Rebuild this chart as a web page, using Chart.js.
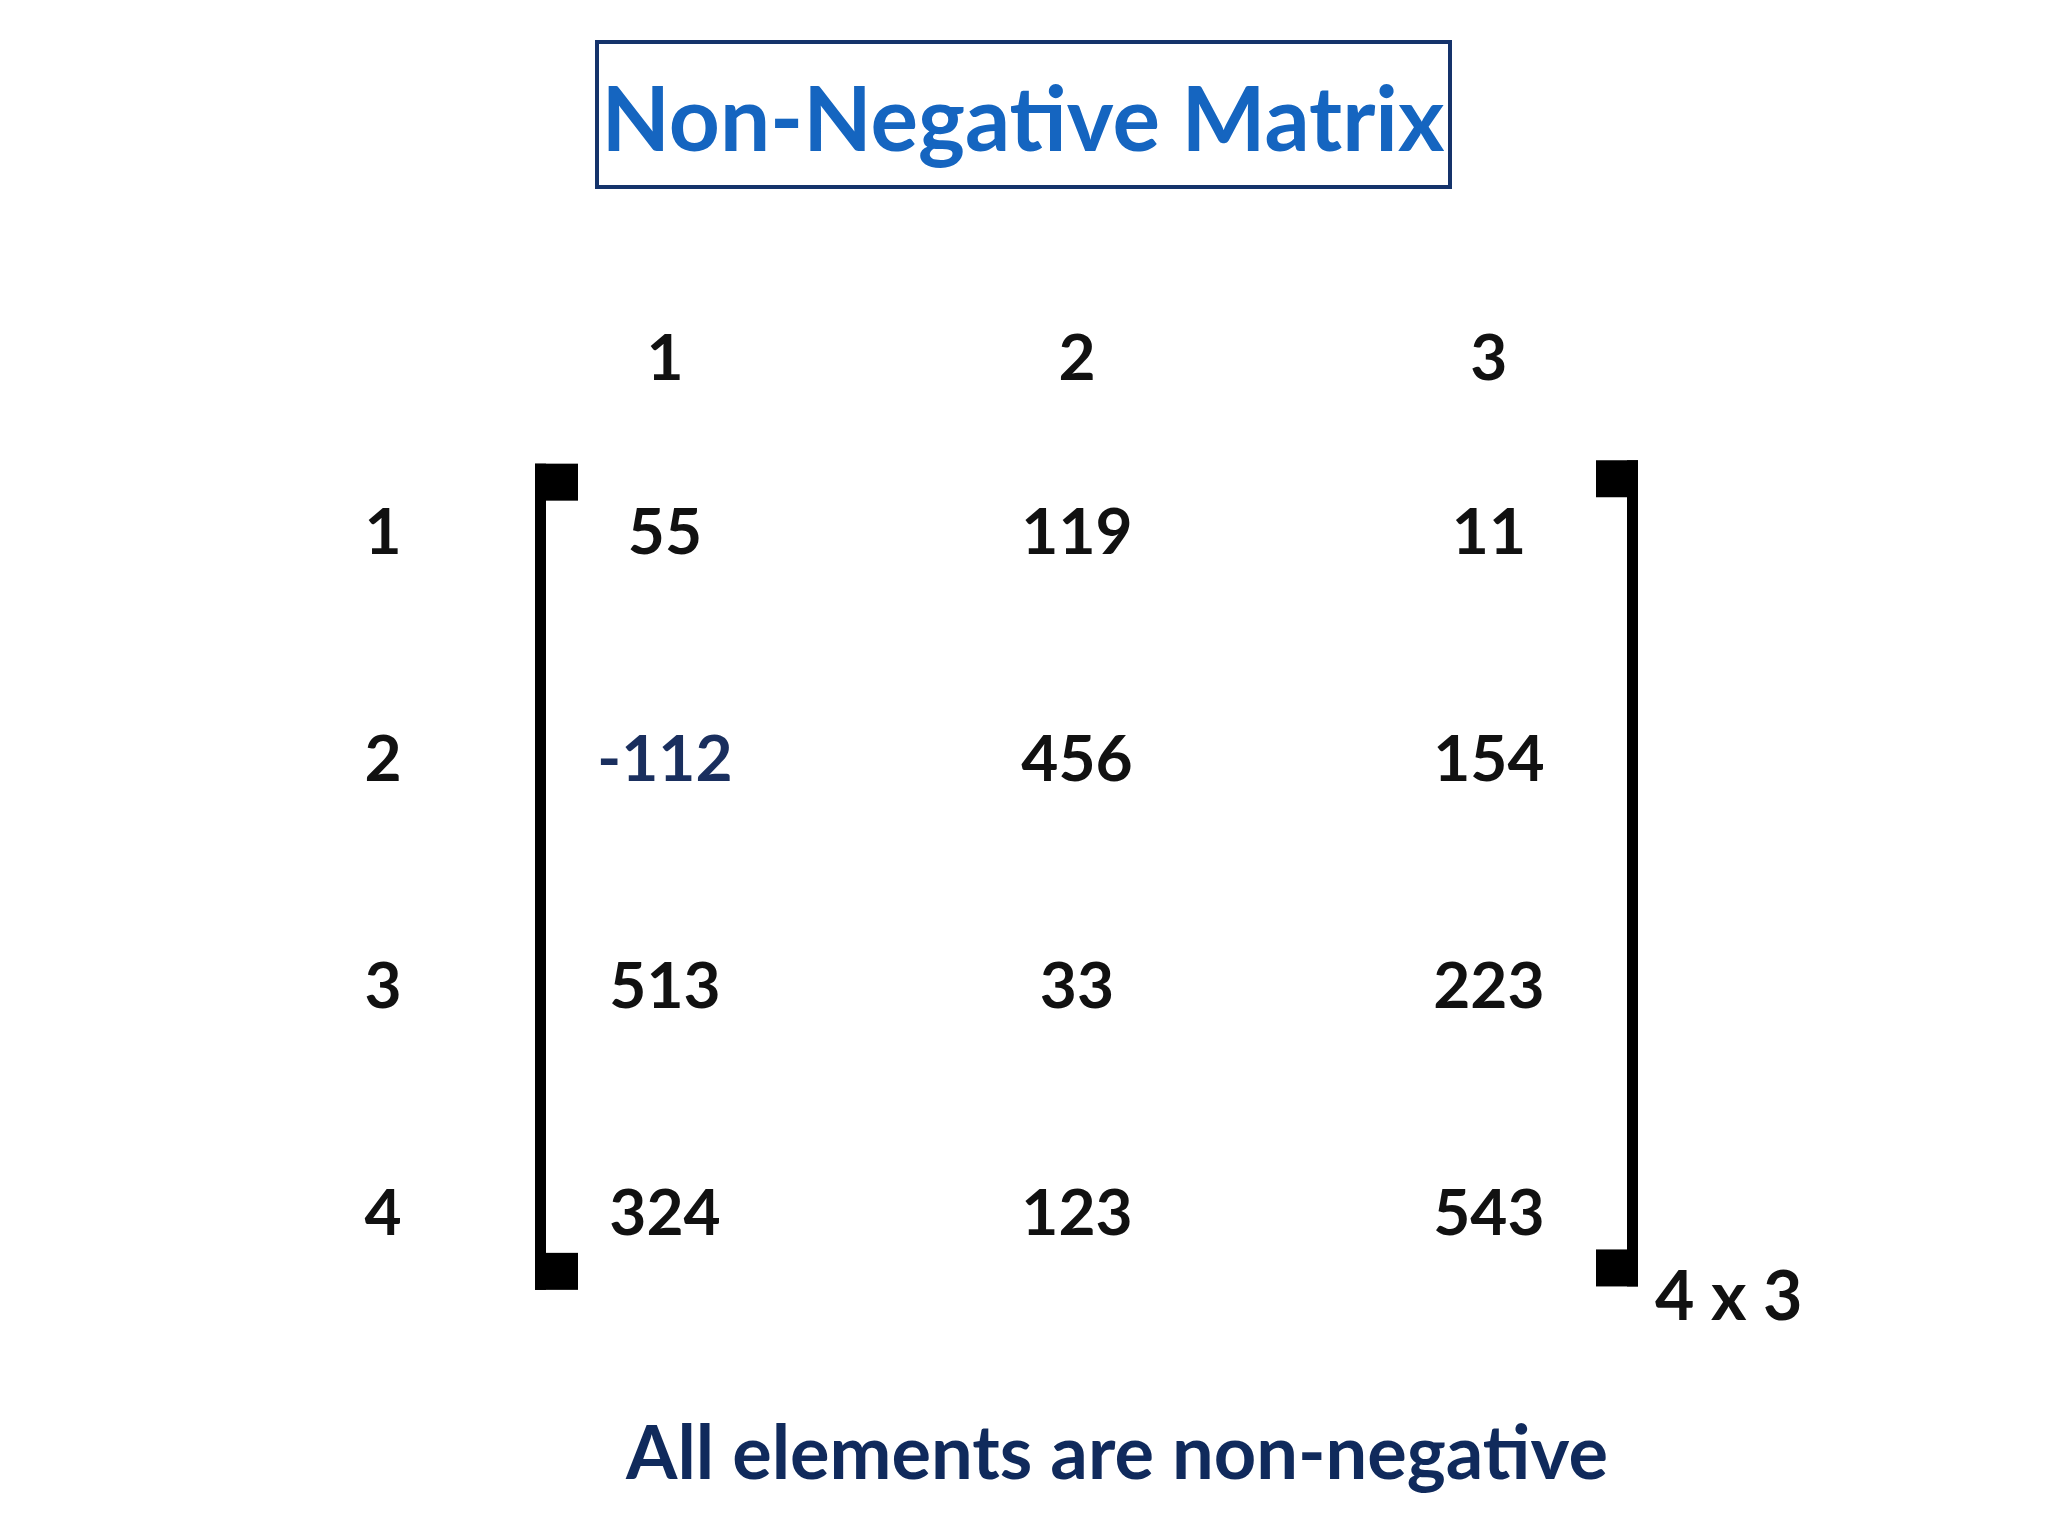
<!DOCTYPE html>
<html><head><meta charset="utf-8">
<script src="https://cdn.jsdelivr.net/npm/chart.js@4"></script>
<style>html,body{margin:0;padding:0;background:#fff}#c{display:block}</style>
</head><body>
<canvas id="c" width="2048" height="1536"></canvas>
<script>
const title = "Non-Negative Matrix";
const footer = "All elements are non-negative";
const dimLabel = "4 x 3";
const colLabels = ["1","2","3"];
const rowLabels = ["1","2","3","4"];
const row1 = [55,119,11];
const row2 = [-112,456,154];
const row3 = [513,33,223];
const row4 = [324,123,543];
const rows = [row1,row2,row3,row4];

const pts = [];
rows.forEach((r,ri)=>r.forEach((v,ci)=>pts.push({x:ci+1,y:ri+1,v:v})));

const FONT = '"Lato", "Open Sans", sans-serif';
const plugin = {
  id:'matrix',
  afterDatasetsDraw(chart){
    const ctx = chart.ctx, xs = chart.scales.x, ys = chart.scales.y;
    const px = v=>xs.getPixelForValue(v), py = v=>ys.getPixelForValue(v);
    ctx.save();
    ctx.textAlign='center'; ctx.textBaseline='middle';
    ctx.strokeStyle='#15336b'; ctx.lineWidth=4;
    ctx.strokeRect(597,42,853,145);
    ctx.fillStyle='#1565c0'; ctx.font='bold 89px '+FONT;
    ctx.fillText(title,1023,122);
    ctx.fillStyle='#111'; ctx.font='bold 64px '+FONT;
    colLabels.forEach((l,i)=>ctx.fillText(l,px(i+1),py(0.235)));
    rowLabels.forEach((l,i)=>ctx.fillText(l,383,py(i+1)));
    chart.getDatasetMeta(0).data.forEach((el,i)=>{
      const v = pts[i].v;
      ctx.fillStyle = v<0 ? '#1a2f5e' : '#111';
      ctx.fillText(String(v),el.x,el.y);
    });
    ctx.fillStyle='#000';
    const top = py(0.695), bot = py(4.33);
    ctx.fillRect(535,top,11,bot-top);
    ctx.fillRect(535,top,43,37);
    ctx.fillRect(535,bot-37,43,37);
    const top2 = py(0.68), bot2 = py(4.315);
    ctx.fillRect(1627,top2,11,bot2-top2);
    ctx.fillRect(1596,top2,42,37);
    ctx.fillRect(1596,bot2-37,42,37);
    ctx.font='bold 68px '+FONT; ctx.fillStyle='#111'; ctx.textAlign='left';
    ctx.fillText(dimLabel,1655,1298);
    ctx.textAlign='center'; ctx.fillStyle='#102a5c'; ctx.font='bold 74px '+FONT;
    ctx.fillText(footer,1117,1455);
    ctx.restore();
  }
};

new Chart(document.getElementById('c'),{
  type:'scatter',
  data:{datasets:[{data:pts,pointRadius:0,showLine:false}]},
  options:{
    responsive:false, devicePixelRatio:1, animation:false,
    layout:{padding:0},
    plugins:{legend:{display:false},tooltip:{enabled:false}},
    scales:{
      x:{type:'linear',min:-0.614,max:4.357,display:false},
      y:{type:'linear',min:-1.345,max:5.413,reverse:true,display:false}
    }
  },
  plugins:[plugin]
});
</script>
</body></html>
